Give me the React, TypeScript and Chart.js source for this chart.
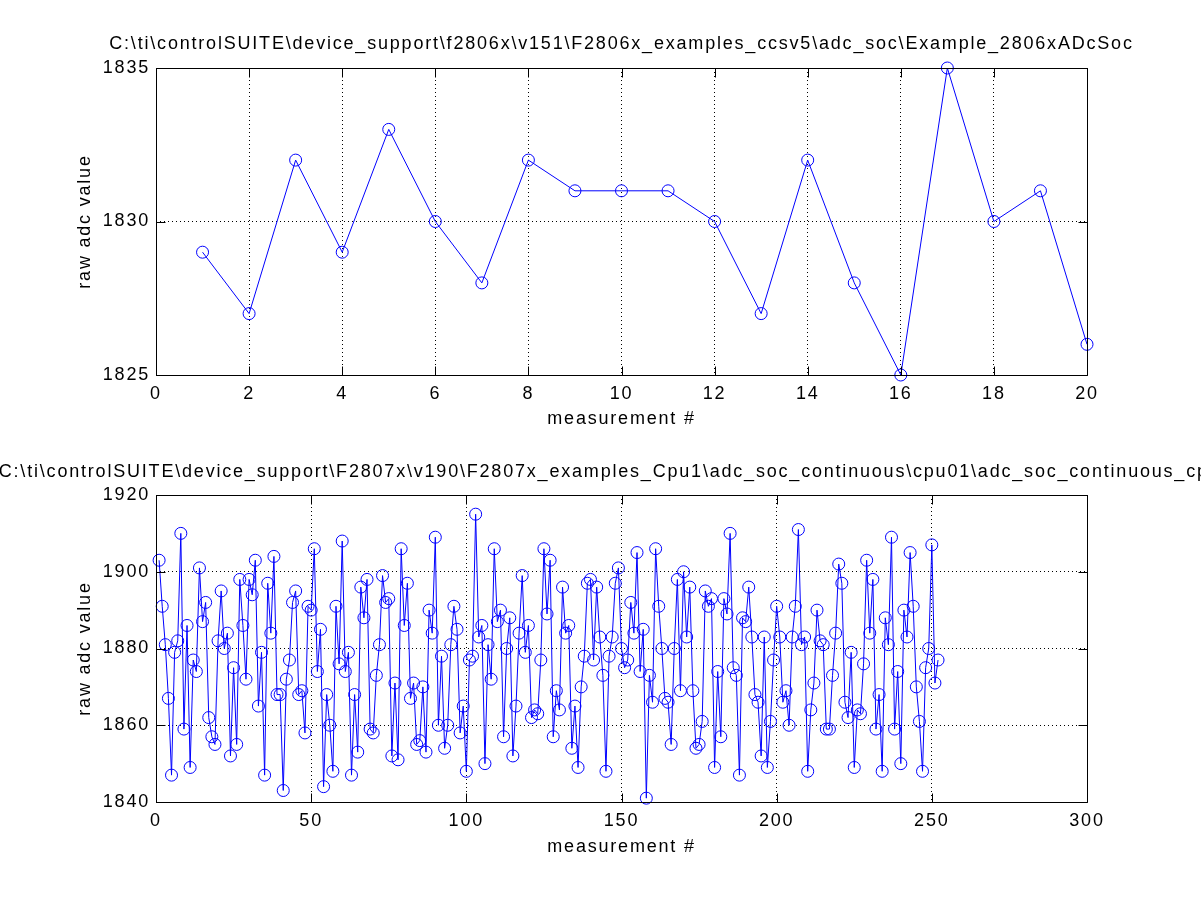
import React, { useEffect, useRef } from "react";
import { Chart, registerables } from "chart.js";

Chart.register(...registerables);

const topTitle =
  "C:\\ti\\controlSUITE\\device_support\\f2806x\\v151\\F2806x_examples_ccsv5\\adc_soc\\Example_2806xADcSoc";
const bottomTitle =
  "C:\\ti\\controlSUITE\\device_support\\F2807x\\v190\\F2807x_examples_Cpu1\\adc_soc_continuous\\cpu01\\adc_soc_continuous_cpu01";
const xAxisLabel = "measurement #";
const yAxisLabel = "raw adc value";

const topValues = [
  1829, 1827, 1832, 1829, 1833, 1830, 1828, 1832, 1831, 1831,
  1831, 1830, 1827, 1832, 1828, 1825, 1835, 1830, 1831, 1826,
];
const topXRange = [0, 20, 2];
const topYRange = [1825, 1835, 5];

const bottomValues = [
  1903, 1891, 1881, 1867, 1847, 1879, 1882, 1910, 1859, 1886,
  1849, 1877, 1874, 1901, 1887, 1892, 1862, 1857, 1855, 1882,
  1895, 1880, 1884, 1852, 1875, 1855, 1898, 1886, 1872, 1898,
  1894, 1903, 1865, 1879, 1847, 1897, 1884, 1904, 1868, 1868,
  1843, 1872, 1877, 1892, 1895, 1868, 1869, 1858, 1891, 1890,
  1906, 1874, 1885, 1844, 1868, 1860, 1848, 1891, 1876, 1908,
  1874, 1879, 1847, 1868, 1853, 1896, 1888, 1898, 1859, 1858,
  1873, 1881, 1899, 1892, 1893, 1852, 1871, 1851, 1906, 1886,
  1897, 1867, 1871, 1855, 1856, 1870, 1853, 1890, 1884, 1909,
  1860, 1878, 1854, 1860, 1881, 1891, 1885, 1858, 1865, 1848,
  1877, 1878, 1915, 1883, 1886, 1850, 1881, 1872, 1906, 1887,
  1890, 1857, 1880, 1888, 1852, 1865, 1884, 1899, 1879, 1886,
  1862, 1864, 1863, 1877, 1906, 1889, 1903, 1857, 1869, 1864,
  1896, 1884, 1886, 1854, 1865, 1849, 1870, 1878, 1897, 1898,
  1877, 1896, 1883, 1873, 1848, 1878, 1883, 1897, 1901, 1880,
  1875, 1877, 1892, 1884, 1905, 1874, 1885, 1841, 1873, 1866,
  1906, 1891, 1880, 1867, 1866, 1855, 1880, 1898, 1869, 1900,
  1883, 1896, 1869, 1854, 1855, 1861, 1895, 1891, 1893, 1849,
  1874, 1857, 1893, 1889, 1910, 1875, 1873, 1847, 1888, 1887,
  1896, 1883, 1868, 1866, 1852, 1883, 1849, 1861, 1877, 1891,
  1883, 1866, 1869, 1860, 1883, 1891, 1911, 1881, 1883, 1848,
  1864, 1871, 1890, 1882, 1881, 1859, 1859, 1873, 1884, 1902,
  1897, 1866, 1862, 1879, 1849, 1864, 1863, 1876, 1903, 1884,
  1898, 1859, 1868, 1848, 1888, 1881, 1909, 1859, 1874, 1850,
  1890, 1883, 1905, 1891, 1870, 1861, 1848, 1875, 1880, 1907,
  1871, 1877,
];
const bottomXRange = [0, 300, 50];
const bottomYRange = [1840, 1920, 20];

const FONT = "'Liberation Sans', Arial, Helvetica, sans-serif";
const FONT_SIZE = 18;
const LETTER_SPACING = "1.8px";
const BLUE = "#0000ff";

const spacing = {
  id: "spacing",
  beforeUpdate(chart: any) {
    (chart.ctx as any).letterSpacing = LETTER_SPACING;
  },
  beforeDraw(chart: any) {
    (chart.ctx as any).letterSpacing = LETTER_SPACING;
  },
};

const matlabFrame = {
  id: "matlabFrame",
  afterDraw(chart: any, _args: any, opts: any) {
    const { ctx, chartArea: a, scales } = chart;
    const L = 9;
    ctx.save();
    ctx.setLineDash([]);
    ctx.strokeStyle = "#000";
    ctx.lineWidth = 1;
    const left = Math.round(a.left) + 0.5;
    const right = Math.round(a.right) + 0.5;
    const top = Math.round(a.top) + 0.5;
    const bottom = Math.round(a.bottom) + 0.5;
    ctx.beginPath();
    scales.x.ticks.forEach((t: any) => {
      const px = Math.round(scales.x.getPixelForValue(t.value)) + 0.5;
      ctx.moveTo(px, bottom);
      ctx.lineTo(px, bottom - L);
      ctx.moveTo(px, top);
      ctx.lineTo(px, top + L);
    });
    scales.y.ticks.forEach((t: any) => {
      const py = Math.round(scales.y.getPixelForValue(t.value)) + 0.5;
      ctx.moveTo(left, py);
      ctx.lineTo(left + L, py);
      ctx.moveTo(right, py);
      ctx.lineTo(right - L, py);
    });
    ctx.rect(left, top, right - left, bottom - top);
    ctx.stroke();
    ctx.fillStyle = "#000";
    ctx.letterSpacing = LETTER_SPACING;
    ctx.font = `${FONT_SIZE}px ${FONT}`;
    ctx.textAlign = "center";
    ctx.textBaseline = "middle";
    ctx.fillText(opts.text, (a.left + a.right) / 2, opts.y);
    ctx.restore();
  },
};

type PanelProps = {
  values: number[];
  xRange: number[];
  yRange: number[];
  title: string;
  titleY: number;
  height: number;
  chartTop: number;
  chartBottom: number;
  xTitlePad: number;
};

function Panel(p: PanelProps) {
  const ref = useRef<HTMLCanvasElement | null>(null);
  useEffect(() => {
    if (!ref.current) return;
    const data = p.values.map((v, i) => ({ x: i + 1, y: v }));
    const tickFont = { family: FONT, size: FONT_SIZE };
    const chart = new Chart(ref.current, {
      type: "scatter",
      data: {
        datasets: [
          {
            data,
            showLine: true,
            borderColor: BLUE,
            borderWidth: 1,
            pointStyle: "circle",
            pointRadius: 6,
            pointHoverRadius: 6,
            pointBorderWidth: 1,
            pointBorderColor: BLUE,
            pointBackgroundColor: "rgba(0,0,0,0)",
            clip: false as any,
          },
        ],
      },
      plugins: [spacing as any, matlabFrame as any],
      options: {
        responsive: false,
        animation: false,
        devicePixelRatio: 1,
        events: [],
        layout: { padding: { top: p.chartTop, right: 1201 - 1087, left: 0, bottom: 0 } },
        plugins: {
          legend: { display: false },
          tooltip: { enabled: false },
          title: { display: false },
          matlabFrame: { text: p.title, y: p.titleY },
        } as any,
        scales: {
          x: {
            type: "linear",
            min: p.xRange[0],
            max: p.xRange[1],
            afterFit: (s: any) => {
              s.height = p.height - p.chartBottom;
            },
            ticks: {
              stepSize: p.xRange[2],
              color: "#000",
              font: tickFont,
              padding: 8,
              maxRotation: 0,
              callback: (v: any) => String(v),
            },
            grid: { color: "#000", lineWidth: 1, drawTicks: false },
            border: { display: false, dash: [1, 3] },
            title: {
              display: true,
              text: xAxisLabel,
              color: "#000",
              font: tickFont,
              padding: { top: 0, bottom: p.xTitlePad },
            },
          },
          y: {
            type: "linear",
            min: p.yRange[0],
            max: p.yRange[1],
            afterFit: (s: any) => {
              s.width = 156;
            },
            ticks: {
              stepSize: p.yRange[2],
              color: "#000",
              font: tickFont,
              padding: 6,
              callback: (v: any) => String(v),
            },
            grid: { color: "#000", lineWidth: 1, drawTicks: false },
            border: { display: false, dash: [1, 3] },
            title: {
              display: true,
              text: yAxisLabel,
              color: "#000",
              font: tickFont,
              padding: { top: 74, bottom: 0 },
            },
          },
        },
      },
    });
    return () => chart.destroy();
  }, []);
  return <canvas ref={ref} width={1201} height={p.height} style={{ display: "block", width: 1201, height: p.height }} />;
}

export default function App() {
  return (
    <div style={{ position: "absolute", left: 0, top: 0, width: 1201, height: 901, background: "#fff", overflow: "hidden" }}>
      <Panel
        values={topValues}
        xRange={topXRange}
        yRange={topYRange}
        title={topTitle}
        titleY={44}
        height={450}
        chartTop={68}
        chartBottom={375}
        xTitlePad={20}
      />
      <Panel
        values={bottomValues}
        xRange={bottomXRange}
        yRange={bottomYRange}
        title={bottomTitle}
        titleY={22}
        height={451}
        chartTop={45}
        chartBottom={352}
        xTitlePad={43}
      />
    </div>
  );
}
